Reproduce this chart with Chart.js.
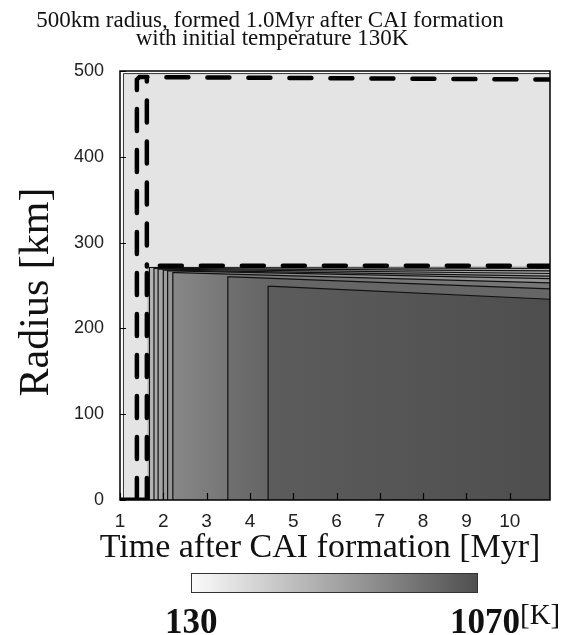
<!DOCTYPE html>
<html>
<head>
<meta charset="utf-8">
<script src="https://cdn.jsdelivr.net/npm/chart.js@4.4.0/dist/chart.umd.min.js"></script>
<style>
  html, body { margin: 0; padding: 0; background: #fff; }
  #mycanvas { display: block; }
</style>
</head>
<body>
<canvas id="mycanvas" width="573" height="635"></canvas>
<script>
// axes
var timeTicks = [1, 2, 3, 4, 5, 6, 7, 8, 9, 10];
var radiusTicks = [0, 100, 200, 300, 400, 500];
var timeMin = 1, timeMax = 10.93;

// cold (initial temperature) region
var coldEdgeTime = 1.08;
var coldTopRadius = 497;

// temperature contours of the warm core: vertical at time, turn at corner, end at right edge
var contourTimes  = [1.62, 1.68, 1.785, 1.88, 2.0, 2.1, 2.22, 3.49, 4.42];
var contourCorner = [1.64, 1.72, 1.82, 1.92, 2.05, 2.16, 2.3, 3.6, 4.55];
var contourTop    = [272, 271, 270, 269, 268, 267, 265, 260, 249];
var contourEnd    = [273, 270, 267, 264, 261, 258, 253, 246, 234];
var bandLeft  = ['#cdcdcd', '#b8b8b8', '#aeaeae', '#a6a6a6', '#9f9f9f', '#989898', '#878787', '#6f6f6f', '#5c5c5c'];
var bandRight = ['#c2c2c2', '#b1b1b1', '#a8a8a8', '#a1a1a1', '#9a9a9a', '#929292', '#767676', '#666666', '#4e4e4e'];

// thick dashed contours
var dashOuterTime = [1.39, 1.39, 1.45, 10.93];
var dashOuterRadius = [0, 490, 493, 490];
var dashUpperTime = [1.62, 1.62];
var dashUpperRadius = [272, 491];
var dashInnerTime = [1.62, 1.62, 1.66, 10.93];
var dashInnerRadius = [0, 270, 273, 273];
var baseTime = [1.0, 1.62];
var baseRadius = [0, 0];

var colorbarLabels = ['130', '1070'];
var colorbarUnit = '[K]';

function pts(xs, ys) {
  var out = [];
  for (var k = 0; k < xs.length; k++) out.push({x: xs[k], y: ys[k]});
  return out;
}

function bandFill(i) {
  return function(context) {
    var chart = context.chart;
    if (!chart.chartArea || !chart.scales.x) return bandLeft[i];
    var sx = chart.scales.x;
    var x0 = sx.getPixelForValue(contourTimes[i]);
    var x1 = sx.getPixelForValue(i + 1 < contourTimes.length ? contourTimes[i + 1] : timeMax);
    var g = chart.ctx.createLinearGradient(x0, 0, x1, 0);
    g.addColorStop(0, bandLeft[i]);
    g.addColorStop(1, bandRight[i]);
    return g;
  };
}

var datasets = [];
datasets.push({
  data: pts([coldEdgeTime, coldEdgeTime, timeMax], [0, coldTopRadius, coldTopRadius]),
  borderColor: '#333', borderWidth: 1, backgroundColor: '#e4e4e4', fill: 'origin', order: 30
});
for (var i = 0; i < contourTimes.length; i++) {
  datasets.push({
    data: pts([contourTimes[i], contourTimes[i], contourCorner[i], timeMax],
              [0, contourTop[i], contourTop[i], contourEnd[i]]),
    borderColor: '#111',
    borderWidth: i == 0 ? 0 : 1.2,
    backgroundColor: bandFill(i),
    fill: 'origin',
    order: 20 - i
  });
}
var dashStyle = {borderColor: '#000', borderWidth: 4.5, borderDash: [22, 19], borderCapStyle: 'round', fill: false, order: 1};
datasets.push(Object.assign({data: pts(dashOuterTime, dashOuterRadius)}, dashStyle));
datasets.push(Object.assign({data: pts(dashUpperTime, dashUpperRadius), borderDashOffset: 20}, dashStyle));
datasets.push(Object.assign({data: pts(dashInnerTime, dashInnerRadius)}, dashStyle));
datasets.push({data: pts(baseTime, baseRadius), borderColor: '#000', borderWidth: 5, fill: false, order: 0});

var framePlugin = {
  id: 'frame',
  afterDatasetsDraw: function(chart) {
    var c = chart.ctx, a = chart.chartArea, sx = chart.scales.x, sy = chart.scales.y;
    c.save();
    c.strokeStyle = '#000';
    c.lineWidth = 1.5;
    c.strokeRect(a.left, a.top, a.right - a.left, a.bottom - a.top);
    c.lineWidth = 1.2;
    c.beginPath();
    timeTicks.forEach(function(v) {
      var px = Math.round(sx.getPixelForValue(v)) + 0.5;
      c.moveTo(px, a.bottom); c.lineTo(px, a.bottom - 7);
    });
    radiusTicks.forEach(function(v) {
      var py = Math.round(sy.getPixelForValue(v)) + 0.5;
      c.moveTo(a.left, py); c.lineTo(a.left + 6, py);
    });
    c.stroke();
    c.restore();
  },
  afterDraw: function(chart) {
    var c = chart.ctx, a = chart.chartArea;
    c.save();
    c.fillStyle = '#111';
    c.textAlign = 'center';
    c.textBaseline = 'alphabetic';
    c.font = '23px "Liberation Serif"';
    c.fillText('500km radius, formed 1.0Myr after CAI formation', 270, 27);
    c.fillText('with initial temperature 130K', 272, 45);

    c.font = '34px "Liberation Serif"';
    c.fillText('Time after CAI formation [Myr]', 320, 557);

    c.save();
    c.translate(48, 292);
    c.rotate(-Math.PI / 2);
    c.font = '42px "Liberation Serif"';
    c.fillText('Radius [km]', 0, 0);
    c.restore();

    // colour bar
    var g = c.createLinearGradient(191, 0, 478, 0);
    g.addColorStop(0, '#fbfbfb');
    g.addColorStop(1, '#4f4f4f');
    c.fillStyle = g;
    c.fillRect(191, 573, 287, 20);
    c.strokeStyle = '#333';
    c.lineWidth = 1;
    c.strokeRect(191.5, 573.5, 286, 19);

    c.fillStyle = '#111';
    c.textAlign = 'left';
    c.font = 'bold 35px "Liberation Serif"';
    c.fillText(colorbarLabels[0], 165, 633);
    var w = c.measureText(colorbarLabels[1]).width;
    c.fillText(colorbarLabels[1], 520 - w, 633);
    c.font = '29px "Liberation Serif"';
    c.fillText(colorbarUnit, 520, 624);
    c.restore();
  }
};

var chart = new Chart(document.getElementById('mycanvas'), {
  type: 'line',
  data: {datasets: datasets},
  options: {
    responsive: false,
    animation: false,
    events: [],
    layout: {padding: {left: 0, top: 71, right: 23, bottom: 0}},
    elements: {point: {radius: 0, hoverRadius: 0}, line: {tension: 0}},
    plugins: {legend: {display: false}, tooltip: {enabled: false}},
    scales: {
      x: {
        type: 'linear', min: timeMin, max: timeMax,
        afterBuildTicks: function(s) { s.ticks = timeTicks.map(function(v) { return {value: v}; }); },
        afterFit: function(s) { s.height = 135; },
        grid: {display: false},
        border: {display: false},
        ticks: {font: {family: 'Liberation Sans', size: 19}, color: '#222', padding: 2, maxRotation: 0, autoSkip: false}
      },
      y: {
        type: 'linear', min: 0, max: 500,
        afterBuildTicks: function(s) { s.ticks = radiusTicks.map(function(v) { return {value: v}; }); },
        afterFit: function(s) { s.width = 120; },
        grid: {display: false},
        border: {display: false},
        ticks: {font: {family: 'Liberation Sans', size: 18}, color: '#222', padding: 8, autoSkip: false}
      }
    }
  },
  plugins: [framePlugin]
});
</script>
</body>
</html>
